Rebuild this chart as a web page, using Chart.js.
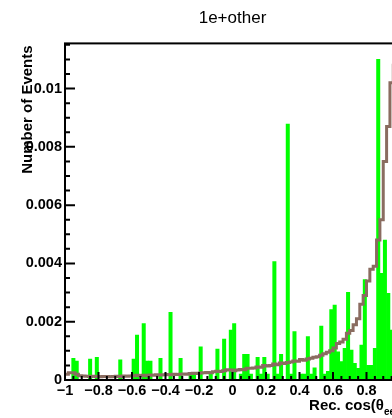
<!DOCTYPE html>
<html>
<head>
<meta charset="utf-8">
<script src="https://cdn.jsdelivr.net/npm/chart.js@4.4.1/dist/chart.umd.min.js"></script>
<style>
  html, body { margin: 0; padding: 0; overflow: hidden; background: #fff; }
  #wrap { width: 392px; height: 418px; overflow: hidden; }
</style>
</head>
<body>
<div id="wrap"><canvas id="chart" width="400" height="418"></canvas></div>
<script>
/* histogram binning: 100 bins on [-1, 1] */
const xMin = -1, xMax = 1, nBins = 100;
const yMax = 0.01155;

/* data (green filled histogram) */
const dataCounts = [
  0, 0, 0.00074, 0.00065, 0, 0, 0, 0.00072, 0, 0.00078,
  0, 0, 0, 0, 0, 0, 0.00069, 0, 0, 0,
  0.00072, 0.00154, 0, 0.00194, 0.00065, 0.00065, 0, 0, 0.00074, 0,
  0, 0.00232, 0, 0, 0.00074, 0, 0, 0.0002, 0.0002, 0,
  0.00114, 0, 0, 0.0002, 0, 0.00106, 0, 0.0014, 0, 0.00171,
  0.00194, 0, 0.0002, 0.00088, 0.00088, 0.0002, 0, 0.00078, 0.0002, 0.00078,
  0.0002, 0, 0.00406, 0.0002, 0.00088, 0, 0.00878, 0.0002, 0.00166, 0,
  0.0002, 0.0002, 0.00149, 0.0002, 0.00042, 0, 0.00185, 0.0002, 0.0003, 0.00242,
  0.00257, 0.00097, 0.00063, 0.00109, 0.00301, 0.00103, 0.00057, 0.0004, 0.0012, 0.00345,
  0.0005, 0.0005, 0.00109, 0.011, 0.00366, 0.0048, 0.00297, 0.00171, 0.002, 0.002
];

/* expectation (brown step line) */
const expCounts = [
  0.0002, 0.00025, 0.00025, 0.0002, 0.00015, 0.00014, 0.00013, 0.00012, 0.00013, 0.00012,
  0.00011, 0.00012, 0.00012, 0.00011, 0.00012, 0.00013, 0.00012, 0.00014, 0.00013, 0.00014,
  0.00015, 0.00016, 0.00015, 0.00016, 0.00015, 0.00017, 0.00016, 0.00018, 0.00017, 0.00018,
  0.00019, 0.00018, 0.0002, 0.00019, 0.0002, 0.00021, 0.0002, 0.00022, 0.00023, 0.00022,
  0.00024, 0.00025, 0.00026, 0.00025, 0.00028, 0.0003, 0.00029, 0.00032, 0.00035, 0.00034,
  0.00032, 0.00034, 0.00036, 0.00035, 0.0004, 0.0004, 0.00041, 0.00045, 0.00044, 0.0005,
  0.00048, 0.0005, 0.00055, 0.00052, 0.00058, 0.00057, 0.0006, 0.00062, 0.00065, 0.00064,
  0.0007, 0.00068, 0.00072, 0.00075, 0.00078, 0.0008, 0.00085, 0.0009, 0.00095, 0.001,
  0.0011, 0.00125, 0.0013, 0.0014, 0.0016, 0.0017, 0.0019, 0.0021, 0.0026, 0.0029,
  0.0034, 0.0038, 0.0039, 0.0048, 0.0055, 0.0075, 0.0087, 0.0102, 0.0108, 0.011
];

const binW = (xMax - xMin) / nBins;
const barPoints = dataCounts.map((v, i) => ({ x: xMin + (i + 0.5) * binW, y: v }));
const stepPoints = expCounts.map((v, i) => ({ x: xMin + i * binW, y: v }));
stepPoints.push({ x: xMax, y: expCounts[nBins - 1] });

const FONT = '"Liberation Sans", Arial, Helvetica, sans-serif';
Chart.defaults.font.family = FONT;
Chart.defaults.color = '#000';

function fmtX(v) {
  const r = Math.round(v * 10) / 10;
  if (r === 0) return '0';
  return (r < 0 ? '\u2212' : '') + String(Math.abs(r));
}
function fmtY(v) {
  const r = parseFloat(v.toFixed(5));
  return r === 0 ? '0' : String(r);
}

// ROOT-like frame, inward ticks and axis titles
const rootFrame = {
  id: 'rootFrame',
  afterDatasetsDraw(chart) {
    const { ctx, chartArea: a, scales: { x, y } } = chart;
    ctx.save();
    ctx.strokeStyle = '#000';
    ctx.lineWidth = 2;
    ctx.beginPath();
    for (let k = 0; k * 0.0005 <= yMax + 1e-9; k++) {
      const p = y.getPixelForValue(k * 0.0005);
      const len = k % 4 === 0 ? 10 : 5;
      ctx.moveTo(a.left, p);
      ctx.lineTo(a.left + len, p);
    }
    for (let k = 0; k <= 40; k++) {
      const p = x.getPixelForValue(xMin + k * 0.05);
      const len = k % 4 === 0 ? 8 : 4;
      ctx.moveTo(p, a.bottom);
      ctx.lineTo(p, a.bottom - len);
    }
    ctx.stroke();
    ctx.strokeRect(a.left, a.top, a.right - a.left, a.bottom - a.top);

    ctx.fillStyle = '#000';
    // y title
    ctx.save();
    ctx.translate(28, a.top + 2);
    ctx.rotate(-Math.PI / 2);
    ctx.font = 'bold 15px ' + FONT;
    ctx.textAlign = 'right';
    ctx.textBaseline = 'middle';
    ctx.fillText('Number of Events', 0, 0);
    ctx.restore();

    // x title: Rec. cos(θ_ee)
    const base = 410;
    ctx.textAlign = 'left';
    ctx.textBaseline = 'alphabetic';
    const big = 'bold 15px ' + FONT, small = 'bold 10px ' + FONT;
    ctx.font = big;
    const w1 = ctx.measureText('Rec. cos(\u03b8').width;
    const w3 = ctx.measureText(')').width;
    ctx.font = small;
    const w2 = ctx.measureText('ee').width;
    let sx = a.right - (w1 + w2 + w3);
    ctx.font = big;
    ctx.fillText('Rec. cos(\u03b8', sx, base);
    ctx.font = small;
    ctx.fillText('ee', sx + w1, base + 5);
    ctx.font = big;
    ctx.fillText(')', sx + w1 + w2, base);
    ctx.restore();
  }
};

new Chart(document.getElementById('chart'), {
  type: 'bar',
  data: {
    datasets: [{
      type: 'line',
      label: 'expected',
      data: stepPoints,
      stepped: 'before',
      borderColor: '#8a6c60',
      borderWidth: 3,
      pointRadius: 0,
      fill: false,
      order: 0
    }, {
      type: 'bar',
      label: 'data',
      data: barPoints,
      backgroundColor: '#00ff00',
      borderWidth: 0,
      barPercentage: 1,
      categoryPercentage: 1,
      order: 1
    }]
  },
  options: {
    responsive: false,
    animation: false,
    devicePixelRatio: 1,
    layout: { padding: 0 },
    plugins: {
      legend: { display: false },
      tooltip: { enabled: false },
      title: {
        display: true,
        text: '1e+other',
        fullSize: false,
        color: '#000',
        font: { size: 17, weight: 'normal' },
        padding: { top: 8, bottom: 15 }
      }
    },
    scales: {
      x: {
        type: 'linear',
        min: xMin,
        max: xMax,
        offset: false,
        grid: { display: false, drawTicks: false, offset: false },
        border: { display: false },
        ticks: {
          stepSize: 0.2,
          autoSkip: false,
          maxRotation: 0,
          padding: 2,
          font: { size: 14.5, weight: 'bold' },
          callback: v => fmtX(v)
        },
        afterFit(s) {
          s.height = 38;
          s.paddingLeft = 0;
          s.paddingRight = 0;
        }
      },
      y: {
        min: 0,
        max: yMax,
        grid: { display: false, drawTicks: false },
        border: { display: false },
        ticks: {
          stepSize: 0.002,
          includeBounds: false,
          padding: 3,
          font: { size: 14.5, weight: 'bold' },
          callback: v => fmtY(v)
        },
        afterFit(s) { s.width = 65; }
      }
    }
  },
  plugins: [rootFrame]
});
</script>
</body>
</html>
